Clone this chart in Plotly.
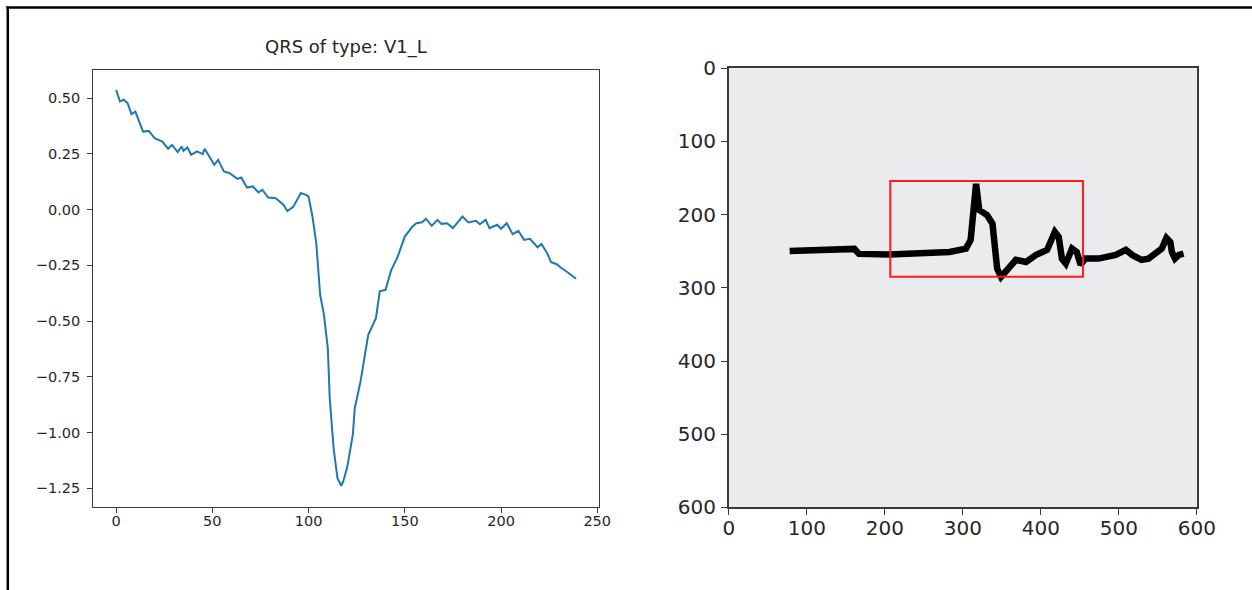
import plotly.graph_objects as go

# ---- left panel: QRS complex (sample index, amplitude) ----
qrs_x = [0, 2, 4, 6, 8, 10, 12, 14, 17, 20, 24, 27, 29, 32, 34, 35, 37, 39, 42, 45, 46,
         51, 53, 56, 59, 63, 65, 68, 71, 74, 76, 79, 83, 87, 89, 92, 96, 99, 100, 102, 104,
         106, 108, 110, 111, 113, 115, 117, 118, 120, 123, 124, 127, 129, 131, 135, 137,
         140, 143, 146, 148, 150, 154, 156, 159, 161, 164, 167, 169, 172, 175, 180, 183,
         187, 189, 192, 194, 198, 200, 203, 206, 209, 212, 215, 219, 221, 224, 226, 229,
         231, 234, 239]
qrs_y = [0.537, 0.485, 0.493, 0.477, 0.428, 0.44, 0.395, 0.35, 0.353, 0.32, 0.305, 0.273,
         0.29, 0.258, 0.283, 0.264, 0.279, 0.246, 0.261, 0.249, 0.273, 0.201, 0.223, 0.171,
         0.163, 0.138, 0.144, 0.099, 0.104, 0.077, 0.089, 0.054, 0.051, 0.021, -0.007, 0.012,
         0.074, 0.065, 0.058, -0.03, -0.15, -0.382, -0.472, -0.622, -0.846, -1.07, -1.205,
         -1.239, -1.22, -1.16, -1.01, -0.891, -0.771, -0.667, -0.562, -0.487, -0.367, -0.36,
         -0.27, -0.218, -0.166, -0.121, -0.076, -0.061, -0.057, -0.041, -0.073, -0.046,
         -0.064, -0.061, -0.083, -0.031, -0.058, -0.05, -0.066, -0.046, -0.083, -0.068,
         -0.086, -0.061, -0.11, -0.095, -0.136, -0.131, -0.169, -0.154, -0.196, -0.236,
         -0.245, -0.26, -0.278, -0.31]
left_title = "QRS of type: V1_L"
left_xticks = [0, 50, 100, 150, 200, 250]
left_yticks = [0.5, 0.25, 0.0, -0.25, -0.5, -0.75, -1.0, -1.25]
left_yticklabels = ["0.50", "0.25", "0.00", "\u22120.25", "\u22120.50", "\u22120.75", "\u22121.00", "\u22121.25"]

# ---- right panel: rendered ECG image trace (pixel coordinates) ----
img_x = [78, 142, 161, 167, 206, 283, 304, 310, 315, 317, 321, 331, 338, 344, 349, 357,
         368, 381, 394, 408, 418, 423, 427, 432, 440, 446, 451, 457, 474, 496, 509, 517,
         529, 538, 547, 555, 561, 566, 568, 572, 577, 583]
img_y = [249.6, 246.4, 246.8, 253.6, 254.3, 251, 246.4, 234.6, 158.2, 158, 193.6, 200.5,
         212.3, 273.7, 285, 275.5, 261.8, 264.6, 255, 248.2, 223.6, 230.5, 260, 266.9,
         246.4, 251, 268.6, 260, 260, 255, 248.2, 255, 261.8, 260, 253.2, 246.4, 231.8,
         237.3, 251, 260, 255, 253.2]
box_x = [207, 454]
box_y = [154, 285]
img_size = [600, 600]
right_ticks = [0, 100, 200, 300, 400, 500, 600]

# page geometry (compensates for how the page is photographed)
W, H = 1280, 616
AX, BX, AY, BY = 0.9825, 4.6, 0.963, 9.2
DX, DY = 5, 10


def fx(rx):
    return ((rx - BX) / AX + DX) / W


def fy(ry):
    return 1 - ((ry - BY) / AY + DY) / H


fig = go.Figure()
fig.add_trace(go.Scatter(x=qrs_x, y=qrs_y, mode="lines",
                         line=dict(color="#1f77b4", width=2),
                         xaxis="x", yaxis="y", showlegend=False))
fig.add_trace(go.Scatter(x=img_x, y=img_y, mode="lines",
                         line=dict(color="black", width=6.5),
                         xaxis="x2", yaxis="y2", showlegend=False))

axis_common = dict(showgrid=False, zeroline=False, showline=True, mirror=True,
                   linecolor="#3a3a3a", linewidth=1, ticks="outside",
                   tickcolor="#3a3a3a", tickwidth=1)

fig.update_layout(
    width=W, height=H, autosize=False,
    margin=dict(l=0, r=0, t=0, b=0),
    paper_bgcolor="white", plot_bgcolor="white",
    font=dict(family="DejaVu Sans", color="#262626"),
    xaxis=dict(domain=[fx(92), fx(599)], range=[-11.95, 250.95],
               tickvals=left_xticks, ticklen=5, tickfont=dict(size=14.5),
               ticklabelstandoff=-4, anchor="y", **axis_common),
    yaxis=dict(domain=[fy(505.5), fy(68)], range=[-1.334, 0.625],
               tickvals=left_yticks, ticktext=left_yticklabels, ticklen=5,
               tickfont=dict(size=14.5), ticklabelstandoff=4, anchor="x", **axis_common),
    xaxis2=dict(domain=[fx(729), fx(1198)], range=[0, img_size[0]],
                tickvals=right_ticks, ticklen=6, tickfont=dict(size=20),
                ticklabelstandoff=-4, anchor="y2", **{**axis_common, "linewidth": 1.5}),
    yaxis2=dict(domain=[fy(506), fy(66)], range=[img_size[1], 0],
                tickvals=right_ticks, ticklen=6, tickfont=dict(size=20),
                ticklabelstandoff=1, anchor="x2", **{**axis_common, "linewidth": 1.5}),
    annotations=[dict(text=left_title, x=fx((92 + 599) / 2), y=fy(45),
                      xref="paper", yref="paper", showarrow=False,
                      font=dict(size=18, color="#262626"),
                      xanchor="center", yanchor="middle")],
    shapes=[
        dict(type="rect", xref="x2", yref="y2", x0=0, x1=img_size[0], y0=0, y1=img_size[1],
             fillcolor="#ebebee", line=dict(width=0), layer="below"),
        dict(type="rect", xref="x2", yref="y2", x0=box_x[0], x1=box_x[1],
             y0=box_y[0], y1=box_y[1], line=dict(color="#ff1a1a", width=2)),
        dict(type="line", xref="paper", yref="paper", x0=fx(5), x1=1, y0=fy(5), y1=fy(5),
             line=dict(color="black", width=2.5)),
        dict(type="line", xref="paper", yref="paper", x0=fx(6.5), x1=fx(6.5), y0=0, y1=fy(4),
             line=dict(color="black", width=2.5)),
    ],
)

fig.write_html(
    "out.html", config={"displayModeBar": False},
    post_script=("document.body.style.margin='0';document.body.style.overflow='hidden';"
                 "document.documentElement.style.overflow='hidden';"
                 "var gd=document.getElementsByClassName('plotly-graph-div')[0];"
                 "gd.style.position='relative';gd.style.left='-5px';gd.style.top='-10px';"))
